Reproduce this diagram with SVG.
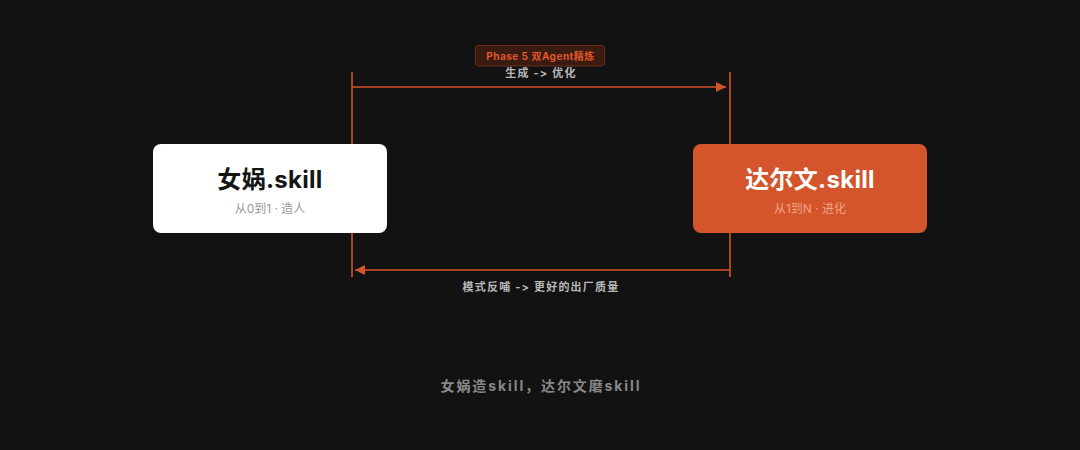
<svg xmlns="http://www.w3.org/2000/svg" width="1080" height="450" viewBox="0 0 1080 450">
<defs>
<style>
.t{font-family:"Inter","Noto Sans CJK SC",sans-serif;font-feature-settings:"calt" 0,"liga" 0;font-variant-ligatures:none;}
.lbl{font-size:11px;font-weight:700;fill:#b8b8b8;text-anchor:middle;letter-spacing:1.2px;}
.ttl{font-size:24px;font-weight:700;text-anchor:middle;letter-spacing:0.3px;}
.sub{font-size:12px;text-anchor:middle;}
.ln{stroke:#d4552b;stroke-width:1.6;fill:none;}
</style>
<marker id="ah" viewBox="0 0 10 10" refX="10" refY="5" markerWidth="10" markerHeight="10" markerUnits="userSpaceOnUse" orient="auto">
<path d="M0,0 L10,5 L0,10 z" fill="#d4552b"/>
</marker>
</defs>
<rect width="1080" height="450" fill="#121212"/>
<g id="badge">
<rect x="475.5" y="45.5" width="129" height="20.5" rx="3" fill="#3a1b12" stroke="#6b2c1a"/>
<text class="t" x="540.5" y="59.5" font-size="10" font-weight="700" fill="#e0572c" text-anchor="middle" letter-spacing="0.5">Phase 5 双Agent精炼</text>
</g>
<g id="connectors">
<line class="ln" x1="352" y1="72" x2="352" y2="277"/>
<line class="ln" x1="730" y1="72" x2="730" y2="277"/>
<line class="ln" x1="352" y1="87" x2="726" y2="87" marker-end="url(#ah)"/>
<line class="ln" x1="730" y1="270" x2="355" y2="270" marker-end="url(#ah)"/>
<text class="t lbl" x="541" y="76.5">生成 -&gt; 优化</text>
<text class="t lbl" x="541" y="291">模式反哺 -&gt; 更好的出厂质量</text>
</g>
<g id="nuwa">
<rect x="153" y="144" width="234" height="89" rx="8" fill="#ffffff"/>
<text class="t ttl" x="270" y="188" fill="#151515">女娲.skill</text>
<text class="t sub" x="270" y="213" fill="#999999">从0到1 · 造人</text>
</g>
<g id="darwin">
<rect x="693" y="144" width="234" height="89" rx="8" fill="#d4552b"/>
<text class="t ttl" x="810" y="188" fill="#ffffff">达尔文.skill</text>
<text class="t sub" x="810" y="213" fill="#f2a384">从1到N · 进化</text>
</g>
<g id="caption">
<text class="t" x="541" y="391" font-size="14" font-weight="700" fill="#888888" text-anchor="middle" letter-spacing="1.9">女娲造skill，达尔文磨skill</text>
</g>
</svg>
